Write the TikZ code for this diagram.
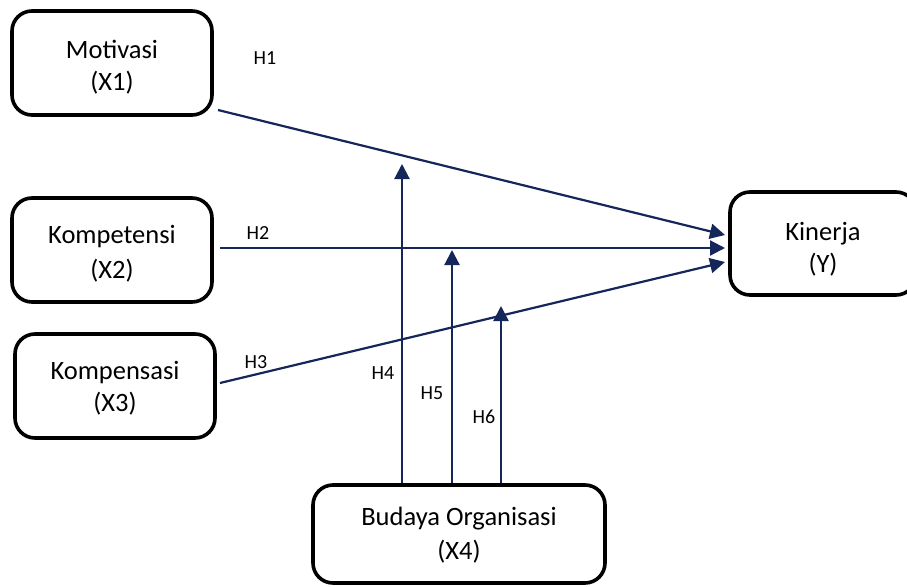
\documentclass[tikz,border=0pt]{standalone}
\usepackage{fontspec}
\setmainfont{Carlito}
\usetikzlibrary{arrows.meta,calc}
\definecolor{navy}{RGB}{20,38,90}
\tikzset{
  varbox/.style={draw=black, line width=3.6pt, rounded corners=20pt, fill=white,
    align=center, inner sep=0pt, font=\fontsize{26.5}{32}\selectfont},
  link/.style={draw=navy, line width=2.2pt, -{Triangle[length=15pt,width=15pt]}},
  hlabel/.style={font=\fontsize{20}{22}\selectfont, inner sep=0pt}
}
\begin{document}
\begin{tikzpicture}[x=1pt,y=-1pt]
\useasboundingbox (0,0) rectangle (907,586);
\clip (0,0) rectangle (907,586);
\fill[white] (0,0) rectangle (907,586);

\node[varbox, minimum width=200pt, minimum height=104pt] (m) at (112,63) {\rule{0pt}{27pt}Motivasi\\(X1)};
\node[varbox, minimum width=200pt, minimum height=104pt] (k) at (112,250) {\rule{0pt}{26pt}Kompetensi\\[3pt](X2)};
\node[varbox, minimum width=200pt, minimum height=104pt] (c) at (115,386) {\rule{0pt}{22pt}Kompensasi\\(X3)};
\node[varbox, minimum width=186pt, minimum height=103pt] (y) at (823,243.5) {\rule{0pt}{29pt}Kinerja\\(Y)};
\node[varbox, minimum width=292pt, minimum height=98pt] (b) at (459,534) {\rule{0pt}{20pt}Budaya Organisasi\\[2pt](X4)};

% free ends
\coordinate (m1) at (218,110);
\coordinate (k1) at (220,248);
\coordinate (c1) at (220,383);
\coordinate (y1) at (725,235);
\coordinate (y2) at (725,248);
\coordinate (y3) at (725,262);
\coordinate (t4) at (402,164);
\coordinate (t5) at (452,250);
\coordinate (t6) at (501,306);

\draw[link] (m1) -- (y1);
\draw[link] (k1) -- (y2);
\draw[link] (c1) -- (y3);
\draw[link] (b.north -| t4) -- (t4);
\draw[link] (b.north -| t5) -- (t5);
\draw[link] (b.north -| t6) -- (t6);

\node[hlabel] (h1) at (265,58) {H1};
\node[hlabel] (h2) at (258,233) {H2};
\node[hlabel] (h3) at (256,362) {H3};
\node[hlabel] (h4) at (383,373) {H4};
\node[hlabel] (h5) at (432,393) {H5};
\node[hlabel] (h6) at (484,417) {H6};
\end{tikzpicture}
\end{document}
